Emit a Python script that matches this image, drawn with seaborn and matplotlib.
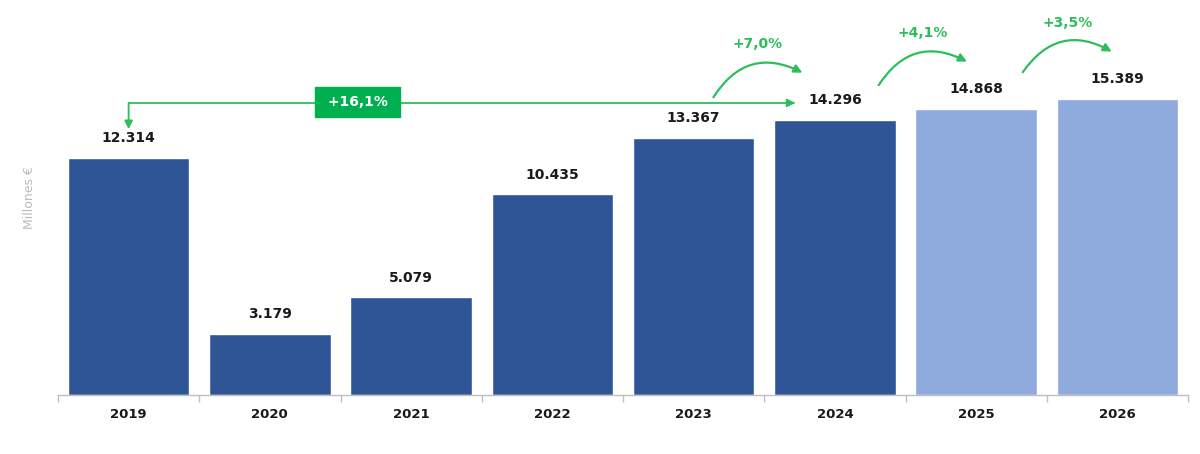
import matplotlib
matplotlib.use("Agg")
import matplotlib.pyplot as plt
import seaborn as sns
import pandas as pd
import numpy as np

years = ["2019", "2020", "2021", "2022", "2023", "2024", "2025", "2026"]
values = [12314, 3179, 5079, 10435, 13367, 14296, 14868, 15389]
labels = ["12.314", "3.179", "5.079", "10.435", "13.367", "14.296", "14.868", "15.389"]
kind = ["real", "real", "real", "real", "real", "real", "prevision", "prevision"]
growth_labels = ["+7,0%", "+4,1%", "+3,5%"]
growth_to = ["2024", "2025", "2026"]
total_label = "+16,1%"

DARK = "#2F5597"
LIGHT = "#8FAADC"
GREEN = "#2DBE5A"
BOX = "#00B050"

sns.set_theme(style="white")
plt.rcParams["font.family"] = ["DejaVu Sans"]

df = pd.DataFrame({"year": years, "value": values, "kind": kind})

fig = plt.figure(figsize=(12, 4.54), dpi=100)
ax = fig.add_axes([58/1200, 59/454, 1130/1200, 395/454])

sns.barplot(data=df, x="year", y="value", hue="kind", order=years,
            palette={"real": DARK, "prevision": LIGHT}, dodge=False,
            width=0.86, legend=False, ax=ax, saturation=1)

ax.set_xlim(-0.5, len(years) - 0.5)
ax.set_ylim(0, 20520)
ax.set_yticks([])
ax.set_xlabel("")
ax.set_ylabel("Millones €", color="#BBBBBB", fontsize=9, labelpad=16)
for s in ["top", "right", "left"]:
    ax.spines[s].set_visible(False)
ax.spines["bottom"].set_color("#BFBFBF")
ax.spines["bottom"].set_linewidth(1)

ax.set_xticks(range(len(years)))
ax.set_xticklabels(years, fontsize=9.5, fontweight="bold", color="#1a1a1a")
ax.tick_params(axis="x", which="major", length=0, pad=9)
ax.set_xticks(np.arange(-0.5, len(years), 1.0), minor=True)
ax.tick_params(axis="x", which="minor", length=5, color="#BFBFBF", width=1, bottom=True)

# value labels
for i, (v, lab) in enumerate(zip(values, labels)):
    ax.annotate(lab, (i, v), xytext=(0, 9), textcoords="offset points",
                ha="center", va="bottom", fontsize=10, fontweight="bold", color="#1a1a1a")

# total arrow 2019 -> 2024
i0, i1 = 0, years.index("2024")
yline = values[i0] + 2860
ax.plot([i0, i1 - 0.3], [yline, yline], color=GREEN, lw=1.3, zorder=3)
ax.annotate("", xy=(i1 - 0.26, yline), xytext=(i1 - 0.32, yline),
            arrowprops=dict(arrowstyle="-|>", color=GREEN, lw=1.3, mutation_scale=12), zorder=3)
ax.annotate("", xy=(i0, values[i0] + 1500), xytext=(i0, yline),
            arrowprops=dict(arrowstyle="-|>", color=GREEN, lw=1.3, mutation_scale=12,
                            shrinkA=0, shrinkB=0), zorder=3)
ax.text((i0 + i1) / 2 - 0.88, yline + 40, " " + total_label + " ", ha="center", va="center",
        fontsize=10, fontweight="bold", color="white", zorder=4,
        bbox=dict(boxstyle="square,pad=0.55", fc=BOX, ec=BOX))

# curved growth arrows
start_off = [0.14, 0.31, 0.33]
end_off = [0.23, 0.065, 0.04]
start_dy = [2100, 1800, 1900]
for k, (lab, yr) in enumerate(zip(growth_labels, growth_to)):
    j = years.index(yr)
    x0 = j - 1 + start_off[k]
    y0 = values[j - 1] + start_dy[k]
    x1, y1 = j - end_off[k], values[j] + 2450
    ax.annotate("", xy=(x1, y1), xytext=(x0, y0),
                arrowprops=dict(arrowstyle="-|>", color=GREEN, lw=1.6, mutation_scale=12,
                                connectionstyle="arc3,rad=-0.45", shrinkA=0, shrinkB=0))
    ax.text((x0 + x1) / 2, values[j] + 3950, lab, ha="center", va="center",
            fontsize=10, fontweight="bold", color=GREEN)

fig.savefig("out.png", dpi=100, facecolor="white")
